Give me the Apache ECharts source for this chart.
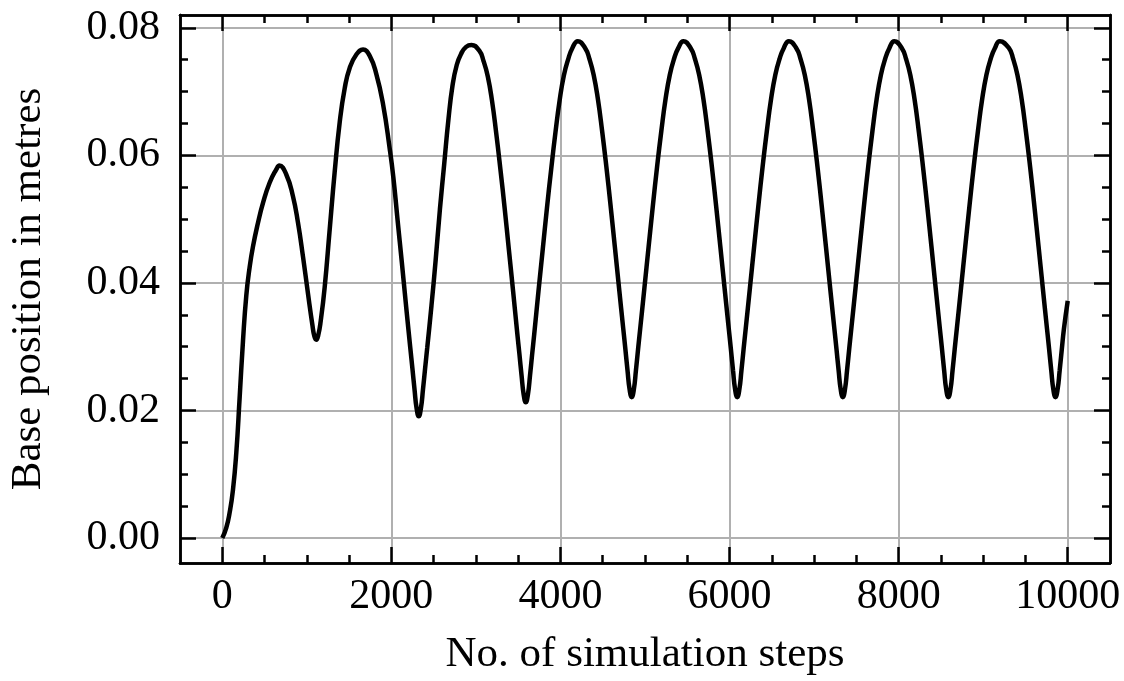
<!DOCTYPE html>
<html>
<head>
<meta charset="utf-8">
<script src="https://cdn.jsdelivr.net/npm/echarts@6/dist/echarts.min.js"></script>
<style>
html, body { margin: 0; padding: 0; background: #fff; }
#chart { width: 1124px; height: 681px; }
</style>
</head>
<body>
<div id="chart"></div>
<script>
// simulation step numbers
var steps = [
	0, 47, 87, 126, 166, 205, 245, 284, 324, 363, 422, 481, 560, 639, 675,
	757, 836, 896, 955, 1014, 1065, 1090, 1112, 1135, 1164, 1211, 1270, 1329, 1389, 1448, 1507, 1586, 1665,
	1744, 1823, 1902, 1980, 2024, 2074, 2124, 2174, 2224, 2249, 2274, 2299, 2324,
	2349, 2374, 2399, 2424, 2474, 2524, 2574, 2624, 2674, 2724, 2774, 2824, 2884, 2948,
	3040, 3090, 3140, 3190, 3240, 3290, 3340, 3390, 3440, 3490, 3515, 3540, 3565, 3590,
	3615, 3640, 3665, 3690, 3740, 3790, 3840, 3890, 3940, 3990, 4040, 4090, 4140, 4205,
	4293, 4343, 4393, 4443, 4493, 4543, 4593, 4643, 4693, 4743, 4768, 4793, 4818, 4843,
	4868, 4893, 4918, 4943, 4993, 5043, 5093, 5143, 5193, 5243, 5293, 5343, 5393, 5455,
	5541, 5591, 5641, 5691, 5741, 5791, 5841, 5891, 5941, 5991, 6016, 6041, 6066, 6091,
	6116, 6141, 6166, 6191, 6241, 6291, 6341, 6391, 6441, 6491, 6541, 6591, 6641, 6702,
	6790, 6840, 6890, 6940, 6990, 7040, 7090, 7140, 7190, 7240, 7265, 7290, 7315, 7340,
	7365, 7390, 7415, 7440, 7490, 7540, 7590, 7640, 7690, 7740, 7790, 7840, 7890, 7949,
	8038, 8088, 8138, 8188, 8238, 8288, 8338, 8388, 8438, 8488, 8513, 8538, 8563, 8588,
	8613, 8638, 8663, 8688, 8738, 8788, 8838, 8888, 8938, 8988, 9038, 9088, 9138, 9197,
	9305, 9355, 9405, 9455, 9505, 9555, 9605, 9655, 9705, 9755, 9780, 9805, 9830, 9855,
	9880, 9905, 9930, 9955, 10000
];
// base position (m)
var position = [
	0.0000, 0.0016, 0.0040, 0.0075, 0.0134, 0.0219, 0.0309, 0.0380, 0.0425, 0.0457, 0.0494, 0.0525, 0.0557, 0.0578, 0.0584,
	0.0570, 0.0536, 0.0494, 0.0441, 0.0383, 0.0335, 0.0316, 0.0311, 0.0318, 0.0340, 0.0393, 0.0483, 0.0573, 0.0652, 0.0705, 0.0737, 0.0758, 0.0766,
	0.0756, 0.0727, 0.0680, 0.0611, 0.0565, 0.0498, 0.0432, 0.0364, 0.0298, 0.0266, 0.0233, 0.0203, 0.0191,
	0.0203, 0.0233, 0.0266, 0.0298, 0.0364, 0.0436, 0.0515, 0.0585, 0.0655, 0.0710, 0.0742, 0.0759, 0.0770, 0.0773,
	0.0764, 0.0748, 0.0724, 0.0686, 0.0635, 0.0578, 0.0517, 0.0452, 0.0387, 0.0320, 0.0288, 0.0255, 0.0225, 0.0213,
	0.0225, 0.0255, 0.0288, 0.0320, 0.0387, 0.0452, 0.0517, 0.0578, 0.0635, 0.0686, 0.0725, 0.0750, 0.0768, 0.0779,
	0.0768, 0.0751, 0.0726, 0.0688, 0.0638, 0.0582, 0.0521, 0.0457, 0.0392, 0.0328, 0.0296, 0.0263, 0.0233, 0.0221,
	0.0233, 0.0263, 0.0296, 0.0328, 0.0392, 0.0457, 0.0521, 0.0582, 0.0638, 0.0688, 0.0726, 0.0751, 0.0768, 0.0779,
	0.0768, 0.0751, 0.0726, 0.0688, 0.0638, 0.0582, 0.0521, 0.0457, 0.0392, 0.0328, 0.0296, 0.0263, 0.0233, 0.0221,
	0.0233, 0.0263, 0.0296, 0.0328, 0.0392, 0.0457, 0.0521, 0.0582, 0.0638, 0.0688, 0.0726, 0.0751, 0.0768, 0.0779,
	0.0768, 0.0751, 0.0726, 0.0688, 0.0638, 0.0582, 0.0521, 0.0457, 0.0392, 0.0328, 0.0296, 0.0263, 0.0233, 0.0221,
	0.0233, 0.0263, 0.0296, 0.0328, 0.0392, 0.0457, 0.0521, 0.0582, 0.0638, 0.0688, 0.0726, 0.0751, 0.0768, 0.0779,
	0.0768, 0.0751, 0.0726, 0.0688, 0.0638, 0.0582, 0.0521, 0.0457, 0.0392, 0.0328, 0.0296, 0.0263, 0.0233, 0.0221,
	0.0233, 0.0263, 0.0296, 0.0328, 0.0392, 0.0457, 0.0521, 0.0582, 0.0638, 0.0688, 0.0726, 0.0751, 0.0768, 0.0779,
	0.0768, 0.0751, 0.0726, 0.0688, 0.0638, 0.0582, 0.0521, 0.0457, 0.0392, 0.0328, 0.0296, 0.0263, 0.0233, 0.0221,
	0.0233, 0.0263, 0.0296, 0.0328, 0.0372
];
var xMajorTicks = [0, 2000, 4000, 6000, 8000, 10000];
var xMinorTicks = [0, 500, 1000, 1500, 2000, 2500, 3000, 3500, 4000, 4500, 5000,
	5500, 6000, 6500, 7000, 7500, 8000, 8500, 9000, 9500, 10000];
var yMajorTicks = [0, 0.02, 0.04, 0.06, 0.08];
var yMinorTicks = [0, 0.005, 0.01, 0.015, 0.02, 0.025, 0.03, 0.035, 0.04,
	0.045, 0.05, 0.055, 0.06, 0.065, 0.07, 0.075, 0.08];

var fontFamily = '"Liberation Serif", "DejaVu Serif", serif';
var points = [];
for (var i = 0; i < steps.length; i++) {
	points.push([steps[i], position[i]]);
}

// one axis per side and tick size; only the first of each carries labels & grid
function xAxisFor(pos, ticks, len, withLabels) {
	return {
		type: 'value', position: pos, min: -500, max: 10500,
		axisLine: { show: true, onZero: false, lineStyle: { color: '#000', width: 2.5 } },
		axisTick: { show: true, inside: true, length: len, customValues: ticks, lineStyle: { color: '#000', width: 2.5 } },
		axisLabel: {
			show: withLabels, customValues: ticks, margin: 13, color: '#000', fontSize: 42, fontFamily: fontFamily,
			formatter: function (v) { return String(v); }
		},
		splitLine: { show: withLabels, lineStyle: { color: '#b0b0b0', width: 2 } }
	};
}
function yAxisFor(pos, ticks, len, withLabels) {
	return {
		type: 'value', position: pos, min: -0.0039, max: 0.082,
		axisLine: { show: true, onZero: false, lineStyle: { color: '#000', width: 2.5 } },
		axisTick: { show: true, inside: true, length: len, customValues: ticks, lineStyle: { color: '#000', width: 2.5 } },
		axisLabel: {
			show: withLabels, customValues: ticks, margin: 20, color: '#000', fontSize: 42, fontFamily: fontFamily,
			formatter: function (v) { return v.toFixed(2); }
		},
		splitLine: { show: withLabels, lineStyle: { color: '#b0b0b0', width: 2 } }
	};
}

var xMain = xAxisFor('bottom', xMajorTicks, 16, true);
xMain.name = 'No. of simulation steps';
xMain.nameLocation = 'middle';
xMain.nameGap = 70;
xMain.nameTextStyle = { color: '#000', fontSize: 43, fontFamily: fontFamily };

var yMain = yAxisFor('left', yMajorTicks, 16, true);
yMain.name = 'Base position in metres';
yMain.nameLocation = 'middle';
yMain.nameGap = 130;
yMain.nameTextStyle = { color: '#000', fontSize: 43, fontFamily: fontFamily };

var myChart = echarts.init(document.getElementById('chart'));
myChart.setOption({
	animation: false,
	backgroundColor: '#fff',
	grid: { left: 180, right: 14, top: 15, bottom: 118, containLabel: false, outerBoundsMode: 'none' },
	xAxis: [
		xMain,
		xAxisFor('bottom', xMinorTicks, 8, false),
		xAxisFor('top', xMajorTicks, 16, false),
		xAxisFor('top', xMinorTicks, 8, false)
	],
	yAxis: [
		yMain,
		yAxisFor('left', yMinorTicks, 8, false),
		yAxisFor('right', yMajorTicks, 16, false),
		yAxisFor('right', yMinorTicks, 8, false)
	],
	series: [
		{
			type: 'line',
			xAxisIndex: 0,
			yAxisIndex: 0,
			data: points,
			showSymbol: false,
			smooth: 0.5,
			lineStyle: { color: '#000', width: 4.5 }
		}
	]
});
</script>
</body>
</html>
